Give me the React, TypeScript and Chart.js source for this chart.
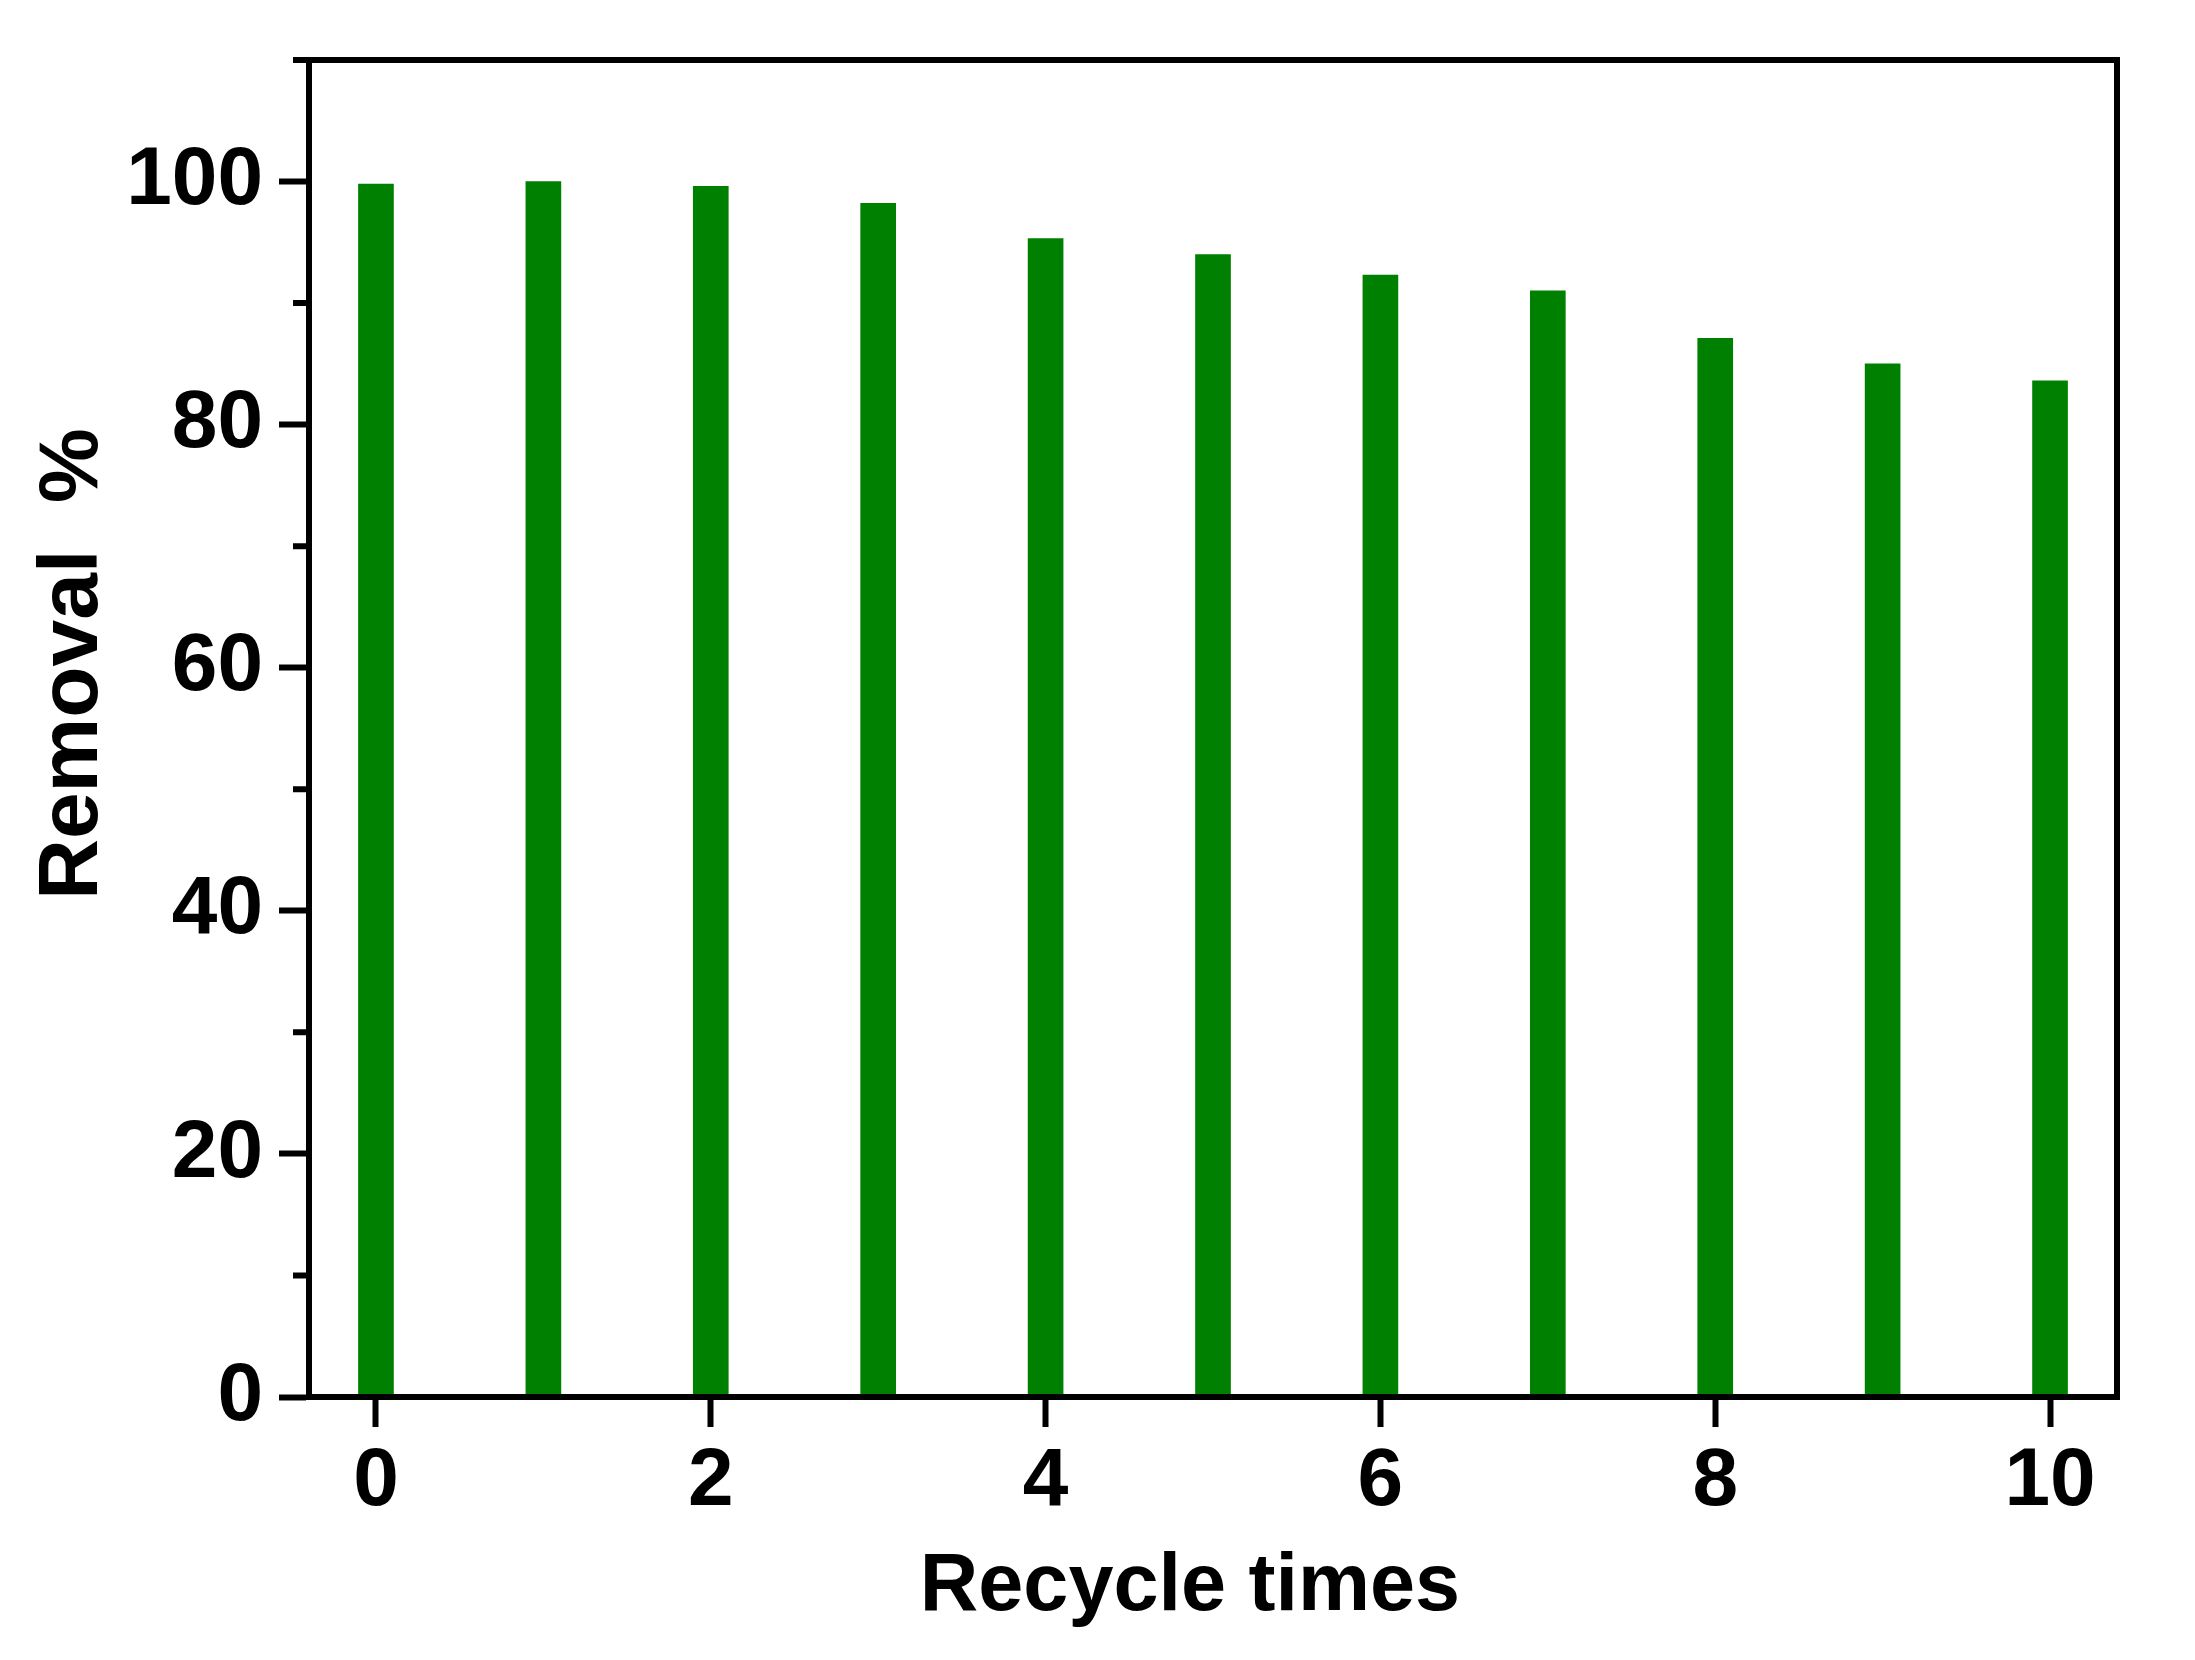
import React, { useEffect, useRef } from 'react';
import { Chart, registerables } from 'chart.js';

Chart.register(...registerables);

const recycleTimes = [0, 1, 2, 3, 4, 5, 6, 7, 8, 9, 10];
const removalPercent = [99.8, 100.0, 99.6, 98.2, 95.3, 94.0, 92.3, 91.0, 87.1, 85.0, 83.6];
const xTickValues = [0, 2, 4, 6, 8, 10];
const yMajorTicks = [0, 20, 40, 60, 80, 100];
const yMinorTicks = [10, 30, 50, 70, 90, 110];
const xTitle = 'Recycle times';
const yTitle = 'Removal  %';

const FONT_FAMILY = '"Liberation Sans", Arial, sans-serif';
const W = 2195;
const H = 1660;

export default function App() {
  const ref = useRef<HTMLCanvasElement | null>(null);

  useEffect(() => {
    const canvas = ref.current;
    if (!canvas) return;

    const framePlugin = {
      id: 'framePlugin',
      afterDraw(chart: any) {
        const { ctx, chartArea } = chart;
        const yScale = chart.scales.y;
        ctx.save();
        ctx.strokeStyle = '#000';
        ctx.lineWidth = 6;
        ctx.lineCap = 'butt';
        // box
        ctx.beginPath();
        ctx.rect(chartArea.left, chartArea.top, chartArea.right - chartArea.left, chartArea.bottom - chartArea.top);
        ctx.stroke();
        // minor y ticks
        ctx.beginPath();
        for (const v of yMinorTicks) {
          const y = yScale.getPixelForValue(v);
          ctx.moveTo(chartArea.left - 16, y);
          ctx.lineTo(chartArea.left, y);
        }
        ctx.stroke();
        // titles
        ctx.fillStyle = '#000';
        ctx.font = `bold 81px ${FONT_FAMILY}`;
        ctx.textAlign = 'center';
        ctx.textBaseline = 'alphabetic';
        ctx.fillText(xTitle, 1190, 1610);
        ctx.translate(97, 664);
        ctx.rotate(-Math.PI / 2);
        ctx.font = `bold 84px ${FONT_FAMILY}`;
        ctx.fillText(yTitle, 0, 0);
        ctx.restore();
      },
    };

    const xTickFont = { family: FONT_FAMILY, size: 82, weight: 'bold' as const };
    const yTickFont = { family: FONT_FAMILY, size: 82, weight: 'bold' as const, lineHeight: 1 };

    const chart = new Chart(canvas, {
      type: 'bar',
      data: {
        datasets: [
          {
            data: recycleTimes.map((x, i) => ({ x, y: removalPercent[i] })),
            backgroundColor: '#008000',
            borderWidth: 0,
            barThickness: 35,
          },
        ],
      },
      options: {
        animation: false,
        responsive: false,
        devicePixelRatio: 1,
        layout: { padding: { top: 60, right: 78, left: 0, bottom: 0 } },
        plugins: { legend: { display: false }, tooltip: { enabled: false }, title: { display: false } },
        scales: {
          x: {
            type: 'linear',
            min: -0.4,
            max: 10.4,
            offset: false,
            afterBuildTicks: (s: any) => {
              s.ticks = xTickValues.map((v) => ({ value: v }));
            },
            afterFit: (s: any) => {
              s.height = 263;
            },
            ticks: {
              font: xTickFont,
              color: '#000',
              padding: 6,
              maxRotation: 0,
              autoSkip: false,
            },
            grid: {
              offset: false,
              drawOnChartArea: false,
              drawTicks: true,
              tickLength: 30,
              tickWidth: 6,
              tickColor: '#000',
            },
            border: { display: true, width: 6, color: '#000' },
          },
          y: {
            type: 'linear',
            min: 0,
            max: 110,
            afterBuildTicks: (s: any) => {
              s.ticks = yMajorTicks.map((v) => ({ value: v }));
            },
            afterFit: (s: any) => {
              s.width = 309;
            },
            ticks: {
              font: yTickFont,
              color: '#000',
              padding: 16,
              autoSkip: false,
            },
            grid: {
              offset: false,
              drawOnChartArea: false,
              drawTicks: true,
              tickLength: 30,
              tickWidth: 6,
              tickColor: '#000',
            },
            border: { display: true, width: 6, color: '#000' },
          },
        },
      },
      plugins: [framePlugin],
    });

    return () => chart.destroy();
  }, []);

  return (
    <div style={{ position: 'fixed', left: 0, top: 0, width: W, height: H, background: '#fff' }}>
      <canvas ref={ref} width={W} height={H} style={{ display: 'block', width: W, height: H }} />
    </div>
  );
}
